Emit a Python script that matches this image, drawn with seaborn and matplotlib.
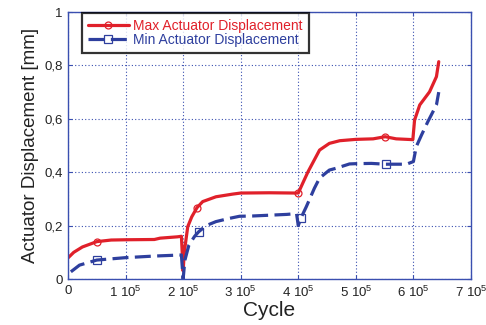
import matplotlib
matplotlib.use("Agg")
import matplotlib.pyplot as plt
import seaborn as sns
import pandas as pd
from matplotlib.lines import Line2D

# ---- data (cycles, displacement in mm) ----
max_cycle = [0, 0.1e5, 0.25e5, 0.5e5, 0.75e5, 1.0e5, 1.5e5, 1.6e5, 1.9e5, 1.97e5,
             2.0e5, 2.02e5, 2.08e5, 2.15e5, 2.24e5, 2.34e5, 2.57e5, 2.86e5, 3.0e5,
             3.5e5, 3.95e5, 4.0e5, 4.08e5, 4.17e5, 4.37e5, 4.54e5, 4.72e5, 5.0e5,
             5.3e5, 5.51e5, 5.7e5, 5.99e5, 6.02e5, 6.11e5, 6.28e5, 6.4e5, 6.44e5]
max_disp = [0.079, 0.10, 0.12, 0.14, 0.146, 0.147, 0.148, 0.153, 0.158, 0.16,
            0.03, 0.10, 0.196, 0.233, 0.267, 0.29, 0.308, 0.318, 0.322,
            0.323, 0.322, 0.322, 0.36, 0.402, 0.483, 0.508, 0.518, 0.523,
            0.525, 0.533, 0.525, 0.522, 0.595, 0.652, 0.701, 0.758, 0.814]
max_marker_idx = [3, 14, 21, 29]

min_cycle = [0.05e5, 0.2e5, 0.5e5, 1.0e5, 1.5e5, 1.97e5, 2.0e5, 2.03e5, 2.1e5,
             2.2e5, 2.27e5, 2.4e5, 2.57e5, 2.8e5, 2.98e5, 3.2e5, 3.8e5, 3.97e5,
             4.0e5, 4.05e5, 4.14e5, 4.28e5, 4.37e5, 4.54e5, 4.66e5, 4.89e5,
             5.0e5, 5.27e5, 5.52e5, 5.88e5, 6.0e5, 6.05e5, 6.14e5, 6.25e5,
             6.4e5, 6.44e5]
min_disp = [0.027, 0.052, 0.071, 0.08, 0.086, 0.09, 0.0, 0.07, 0.127,
            0.16, 0.177, 0.2, 0.215, 0.227, 0.235, 0.236, 0.242, 0.245,
            0.2, 0.23, 0.271, 0.34, 0.378, 0.408, 0.415, 0.431,
            0.432, 0.433, 0.43, 0.43, 0.44, 0.496, 0.539, 0.589,
            0.652, 0.70]
min_marker_idx = [2, 10, 19, 28]

x_ticks = [0, 1e5, 2e5, 3e5, 4e5, 5e5, 6e5, 7e5]
x_tick_labels = ["0", "1 10$^{5}$", "2 10$^{5}$", "3 10$^{5}$", "4 10$^{5}$",
                 "5 10$^{5}$", "6 10$^{5}$", "7 10$^{5}$"]
y_ticks = [0, 0.2, 0.4, 0.6, 0.8, 1.0]
y_tick_labels = ["0", "0,2", "0,4", "0,6", "0,8", "1"]

labels = ["Max Actuator Displacement", "Min Actuator Displacement"]

# ---- style ----
sns.set_theme(style="white")
plt.rcParams['font.family'] = ['Liberation Sans', 'DejaVu Sans']
plt.rcParams['mathtext.fontset'] = 'custom'
plt.rcParams['mathtext.rm'] = 'Liberation Sans'
plt.rcParams['mathtext.it'] = 'Liberation Sans'
plt.rcParams['mathtext.default'] = 'regular'

RED = '#e0202a'
BLUE = '#2e3f9e'
GRID = '#3a4fb0'

fig = plt.figure(figsize=(4.86, 3.25), dpi=100)
ax = fig.add_axes([0.1399, 0.1415, 0.8292, 0.8215])

df_max = pd.DataFrame({"cycle": max_cycle, "disp": max_disp})
df_min = pd.DataFrame({"cycle": min_cycle, "disp": min_disp})

sns.lineplot(data=df_max, x="cycle", y="disp", ax=ax, color=RED, lw=2.3,
             sort=False, estimator=None)
sns.lineplot(data=df_min, x="cycle", y="disp", ax=ax, color=BLUE, lw=2.3,
             sort=False, estimator=None)
ax.lines[-1].set_dashes((5, 2))

ax.plot([max_cycle[i] for i in max_marker_idx], [max_disp[i] for i in max_marker_idx],
        ls='none', marker='o', ms=5, mfc='none', mec=RED, mew=0.9)
ax.plot([min_cycle[i] for i in min_marker_idx], [min_disp[i] for i in min_marker_idx],
        ls='none', marker='s', ms=5.5, mfc='none', mec=BLUE, mew=0.9)

ax.set_xlim(0, 7e5)
ax.set_ylim(0, 1)
ax.set_xticks(x_ticks)
ax.set_xticklabels(x_tick_labels)
ax.set_yticks(y_ticks)
ax.set_yticklabels(y_tick_labels)
ax.tick_params(axis='both', direction='in', length=3, width=0.8, color=GRID,
               labelsize=9.5, labelcolor='#222222', pad=4)
ax.tick_params(top=True, right=True, bottom=True, left=True)

ax.grid(True, color=GRID, lw=0.8, ls=(0, (1, 2)))
for s in ax.spines.values():
    s.set_color(GRID)
    s.set_linewidth(1.0)

ax.set_xlabel("Cycle", fontsize=15, color='#222222', labelpad=1)
ax.set_ylabel("Actuator Displacement [mm]", fontsize=13.5, color='#222222', labelpad=4)

handles = [Line2D([], [], color=RED, lw=2.3, marker='o', ms=5, mfc='none', mec=RED, mew=0.9),
           Line2D([], [], color=BLUE, lw=2.3, dashes=(5, 2), marker='s', ms=5.5, mfc='none',
                  mec=BLUE, mew=0.9)]
leg = ax.legend(handles, labels, loc='upper left', bbox_to_anchor=(0.035, 0.996),
                fontsize=10, frameon=True, fancybox=False, handlelength=2.9,
                handletextpad=0.3, labelspacing=-0.05, borderpad=0.45,
                borderaxespad=0)
leg.get_frame().set_edgecolor('black')
leg.get_frame().set_linewidth(1.6)
for t, c in zip(leg.get_texts(), [RED, BLUE]):
    t.set_color(c)

fig.savefig("out.png", dpi=100)
